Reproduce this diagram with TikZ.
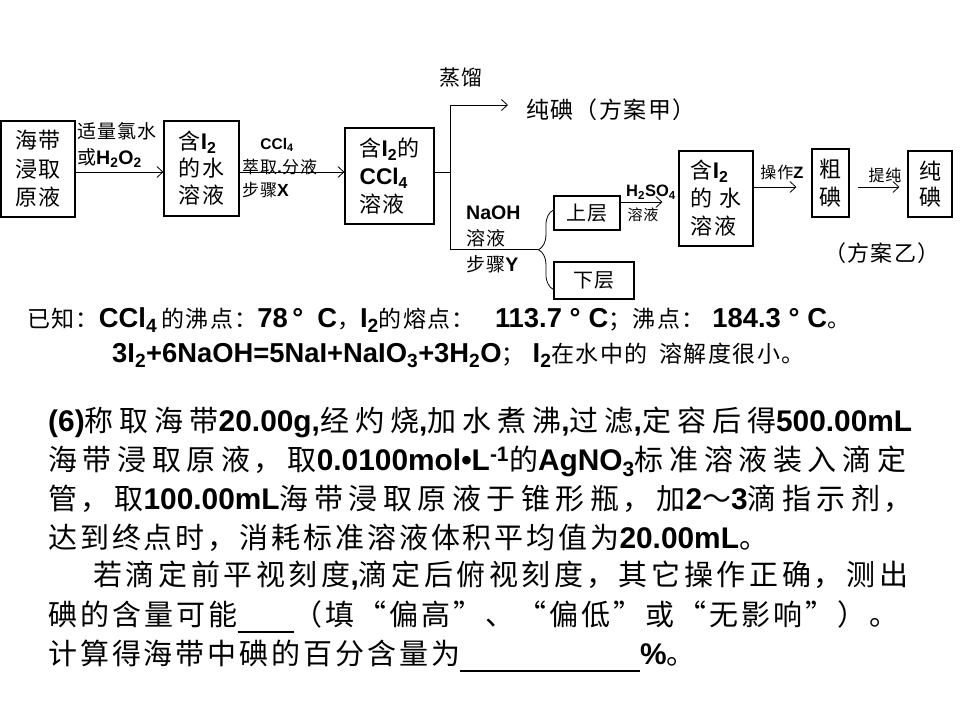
\documentclass[tikz,border=0pt]{standalone}
\usepackage{fontspec}
\setmainfont{Noto Sans CJK SC}[LetterSpace=6]
\newfontfamily\parafont{Noto Sans CJK SC}[LetterSpace=10]
\newfontfamily\ltnfont{Liberation Sans}[Scale=1.03]
\newfontfamily\nrwfont{Liberation Sans}[Scale=1.19]
\newcommand{\ltn}[1]{{\ltnfont\bfseries #1}}
\newcommand{\nrw}[1]{{\nrwfont\bfseries #1}}
\newcommand{\subs}[1]{\textsubscript{#1}}
\newcommand{\fsz}[2]{\fontsize{#1}{#2}\selectfont}
% one justified line of the question text
\newcommand{\jline}[2]{\parbox{#1}{\parfillskip=0pt\relax #2}}
\XeTeXlinebreaklocale "zh"
\XeTeXlinebreakskip=0pt plus 4pt
\usetikzlibrary{arrows.meta, positioning, calc, decorations.pathreplacing}

\begin{document}
\begin{tikzpicture}[x=1pt, y=-1pt,
  box/.style={draw, line width=1.1pt, inner sep=0pt, align=center},
  flow/.style={-{Straight Barb[length=6pt, width=11pt]}, line width=0.8pt},
  lbl/.style={inner sep=0pt, align=left},
  qline/.style={inner sep=0pt, anchor=west, font=\parafont\fsz{29}{29}}]
  \useasboundingbox (0,0) rectangle (960,720);

  % Extraction line
  \coordinate (mainline) at (0,172);
  \node[box, minimum width=74pt, minimum height=96pt, font=\fsz{22}{28.5}] (raw) at (38,169) {海带\\浸取\\原液};
  \node[box, minimum width=75pt, minimum height=95pt, font=\fsz{22}{27}, align=left] (oxid) at (201.5,168.5) {含\ltn{I\subs{2}}\\的水\\溶液};
  \node[box, minimum width=89pt, minimum height=96pt, font=\fsz{22}{28}, align=left] (ccl) at (389.5,176) {含\ltn{I\subs{2}}的\\\ltn{CCl\subs{4}}\\溶液};

  \draw[flow] (raw.east |- mainline) -- (oxid.west |- mainline);
  \node[lbl, anchor=west, font=\fsz{19}{26}] (oxlbl) at (77,145) {适量氯水\\或\ltn{H\subs{2}O\subs{2}}};
  \draw[flow] (oxid.east |- mainline) -- (ccl.west |- mainline);
  \node[lbl, font=\fsz{15}{15}] (cclx) at (277,145) {\ltn{CCl\subs{4}}};
  \node[lbl, anchor=west, font=\fsz{17}{23}] (xstep) at (242,178) {萃取\ltn{.}分液\\步骤\ltn{X}};

  % Plan A
  \coordinate (split) at (450,172);
  \coordinate (top) at (450,105);
  \node[lbl, font=\fsz{21}{21}] (distil) at (461,78) {蒸馏};
  \node[lbl, anchor=west, font=\fsz{23}{23}] (jia) at (526,110) {纯碘（方案甲）};
  \draw[line width=0.8pt] (ccl.east |- mainline) -- (split);
  \draw[flow, shorten >=18pt] (split) -- (top) -- (jia.west |- top);

  % Plan B
  \node[box, minimum width=66pt, minimum height=34pt, font=\fsz{20}{20}] (upper) at (587,213) {上层};
  \node[box, minimum width=80pt, minimum height=37pt, font=\fsz{20}{20}] (lower) at (594,280.5) {下层};
  \coordinate (b1) at ([yshift=-9pt]lower.west);
  \coordinate (b2) at ([yshift=3pt]upper.west);
  \draw[line width=0.8pt, decorate, decoration={brace, amplitude=15pt}] (b1) -- (b2);
  \coordinate (tip) at ($(b1)!0.5!(b2) + (-15,0)$);
  \coordinate (bot) at (split |- tip);
  \draw[line width=0.8pt] (split) -- (bot) -- (tip);
  \node[lbl, anchor=west, font=\fsz{19}{26}] (naoh) at (466,239) {\ltn{NaOH}\\溶液\\步骤\ltn{Y}};

  \node[box, minimum width=74pt, minimum height=95pt, font=\fsz{22}{28}, align=left] (water) at (716,198.5) {含\ltn{I\subs{2}}\\的 水\\溶液};
  \coordinate (acidline) at (0,202);
  \draw[flow, shorten >=16pt] (upper.east |- acidline) -- (water.west |- acidline);
  \node[lbl, font=\fsz{16}{16}] (h2so4) at (651,192) {\ltn{H\subs{2}SO\subs{4}}};
  \node[lbl, font=\fsz{15}{15}] (acidsol) at (643,215) {溶液};

  \node[box, minimum width=37pt, minimum height=68pt, font=\fsz{22}{28}] (crude) at (830.5,183) {粗\\碘};
  \node[box, minimum width=44pt, minimum height=66pt, font=\fsz{22}{26}] (pure) at (930,184) {纯\\碘};
  \coordinate (zline) at (0,187);
  \draw[flow, shorten >=15pt] (water.east |- zline) -- (crude.west |- zline);
  \node[lbl, font=\fsz{16}{16}] (opz) at (782,172) {操作\ltn{Z}};
  \draw[flow, shorten <=8pt, shorten >=8pt] (crude.east |- zline) -- (pure.west |- zline);
  \node[lbl, font=\fsz{16}{16}] (refine) at (885,175) {提纯};
  \node[lbl, font=\fsz{22}{22}] (yi) at (882,253) {（方案乙）};

  % Known data
  \node[lbl, anchor=west, font=\fsz{23}{23}] (known1) at (27,320) {已知：\nrw{CCl\subs{4}}\hspace{4pt}的沸点：\nrw{78\,°\hspace{14pt}C}，\nrw{I\subs{2}}的熔点：\hspace{20pt}\nrw{113.7 °\hspace{8pt}C}；沸点：\hspace{8pt}\nrw{184.3 °\hspace{8pt}C}。};
  \node[lbl, anchor=west, font=\fsz{23}{23}] (known2) at (112,355) {\nrw{3I\subs{2}+6NaOH=5NaI+NaIO\subs{3}+3H\subs{2}O}；\hspace{8pt}\nrw{I\subs{2}}在水中的\hspace{12pt}溶解度很小。};

  % Question (6)
  \node[qline] (q1) at (48,422) {\jline{864pt}{\ltn{(6)}称取海带\ltn{20.00g,}经灼烧\ltn{,}加水煮沸\ltn{,}过滤\ltn{,}定容后得\ltn{500.00mL}}};
  \node[qline] (q2) at (48,461) {\jline{858pt}{海带浸取原液，取\ltn{0.0100mol•L\textsuperscript{-1}}的\ltn{AgNO\subs{3}}标准溶液装入滴定}};
  \node[qline] (q3) at (48,499) {\jline{864pt}{管，取\ltn{100.00mL}海带浸取原液于锥形瓶，加\ltn{2}～\ltn{3}滴指示剂，}};
  \node[qline] (q4) at (48,538) {达到终点时，消耗标准溶液体积平均值为\ltn{20.00mL}。};
  \node[qline] (q5) at (93,576) {\jline{815pt}{若滴定前平视刻度\ltn{,}滴定后俯视刻度，其它操作正确，测出}};
  \node[qline] (q6) at (48,614) {\jline{850pt}{碘的含量可能\smash{\rule[-8pt]{56pt}{2pt}}（填“偏高”、“偏低”或“无影响”）。}};
  \node[qline] (q7) at (48,653) {计算得海带中碘的百分含量为\smash{\rule[-8pt]{180pt}{2pt}}\ltn{\%}。};
\end{tikzpicture}
\end{document}
